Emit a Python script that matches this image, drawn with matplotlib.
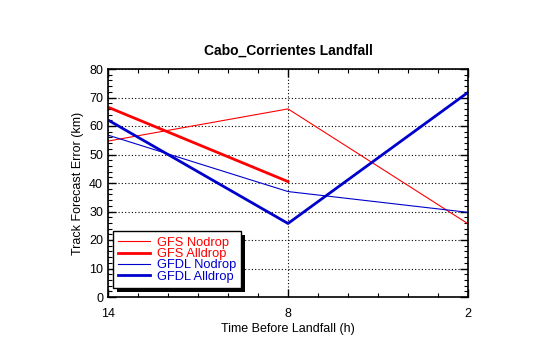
import matplotlib
matplotlib.use("Agg")
import matplotlib.pyplot as plt
from matplotlib.patches import Rectangle
from matplotlib.ticker import MultipleLocator, FixedLocator

plt.rcParams['font.family'] = ['Liberation Sans', 'DejaVu Sans']

lead_hours = [14, 8, 2]
tick_labels = ["14", "8", "2"]

gfs_nodrop = [54.7, 66.0, 25.7]
gfs_alldrop = [66.6, 40.5]
gfdl_nodrop = [56.8, 37.0, 29.7]
gfdl_alldrop = [62.1, 25.8, 71.8]

fig = plt.figure(figsize=(5.4, 3.44), dpi=100)
ax = fig.add_axes([108 / 540, 1 - 297 / 344, 360 / 540, 228 / 344])

ax.plot(lead_hours, gfs_nodrop, color="#ff0000", lw=0.8, label="GFS Nodrop")
ax.plot(lead_hours[:2], gfs_alldrop, color="#ff0000", lw=2.0, label="GFS Alldrop")
ax.plot(lead_hours, gfdl_nodrop, color="#0000cc", lw=0.8, label="GFDL Nodrop")
ax.plot(lead_hours, gfdl_alldrop, color="#0000cc", lw=2.0, label="GFDL Alldrop")

ax.set_xlim(14, 2)
ax.set_ylim(0, 80)
ax.xaxis.set_major_locator(FixedLocator(lead_hours))
ax.set_xticklabels(tick_labels)
ax.xaxis.set_minor_locator(MultipleLocator(1))
ax.yaxis.set_major_locator(MultipleLocator(10))
ax.yaxis.set_minor_locator(MultipleLocator(2))
ax.tick_params(which="both", direction="in", top=True, right=True, labelsize=9)
ax.tick_params(which="major", length=6, width=1)
ax.tick_params(which="minor", length=3, width=0.8)
ax.tick_params(axis="x", pad=8)
ax.grid(True, which="major", color="black", linestyle=(0, (1, 2)), linewidth=0.8)
for s in ax.spines.values():
    s.set_linewidth(1.2)

ax.set_xlabel("Time Before Landfall (h)", fontsize=9, labelpad=2)
ax.set_ylabel("Track Forecast Error (km)", fontsize=9, labelpad=4)
ax.set_title("Cabo_Corrientes Landfall", fontsize=10, fontweight="bold", pad=10)

leg = ax.legend(loc="lower left", bbox_to_anchor=(5 / 360, 9 / 228), fontsize=9.3,
                frameon=True, fancybox=False, edgecolor="black", framealpha=1,
                handlelength=2.5, handletextpad=0.5, labelspacing=-0.05,
                borderpad=0.4, borderaxespad=0.0)
leg.get_frame().set_linewidth(1.0)
for txt, line in zip(leg.get_texts(), leg.get_lines()):
    txt.set_color(line.get_color())

# solid drop shadow behind the legend box
fig.canvas.draw()
bb = leg.get_frame().get_window_extent()
shadow = Rectangle((bb.x0 + 4, bb.y0 - 4), bb.width, bb.height, transform=None,
                   facecolor="black", edgecolor="none", zorder=leg.get_zorder() - 0.1)
ax.add_artist(shadow)

fig.savefig("out.png", dpi=100)
